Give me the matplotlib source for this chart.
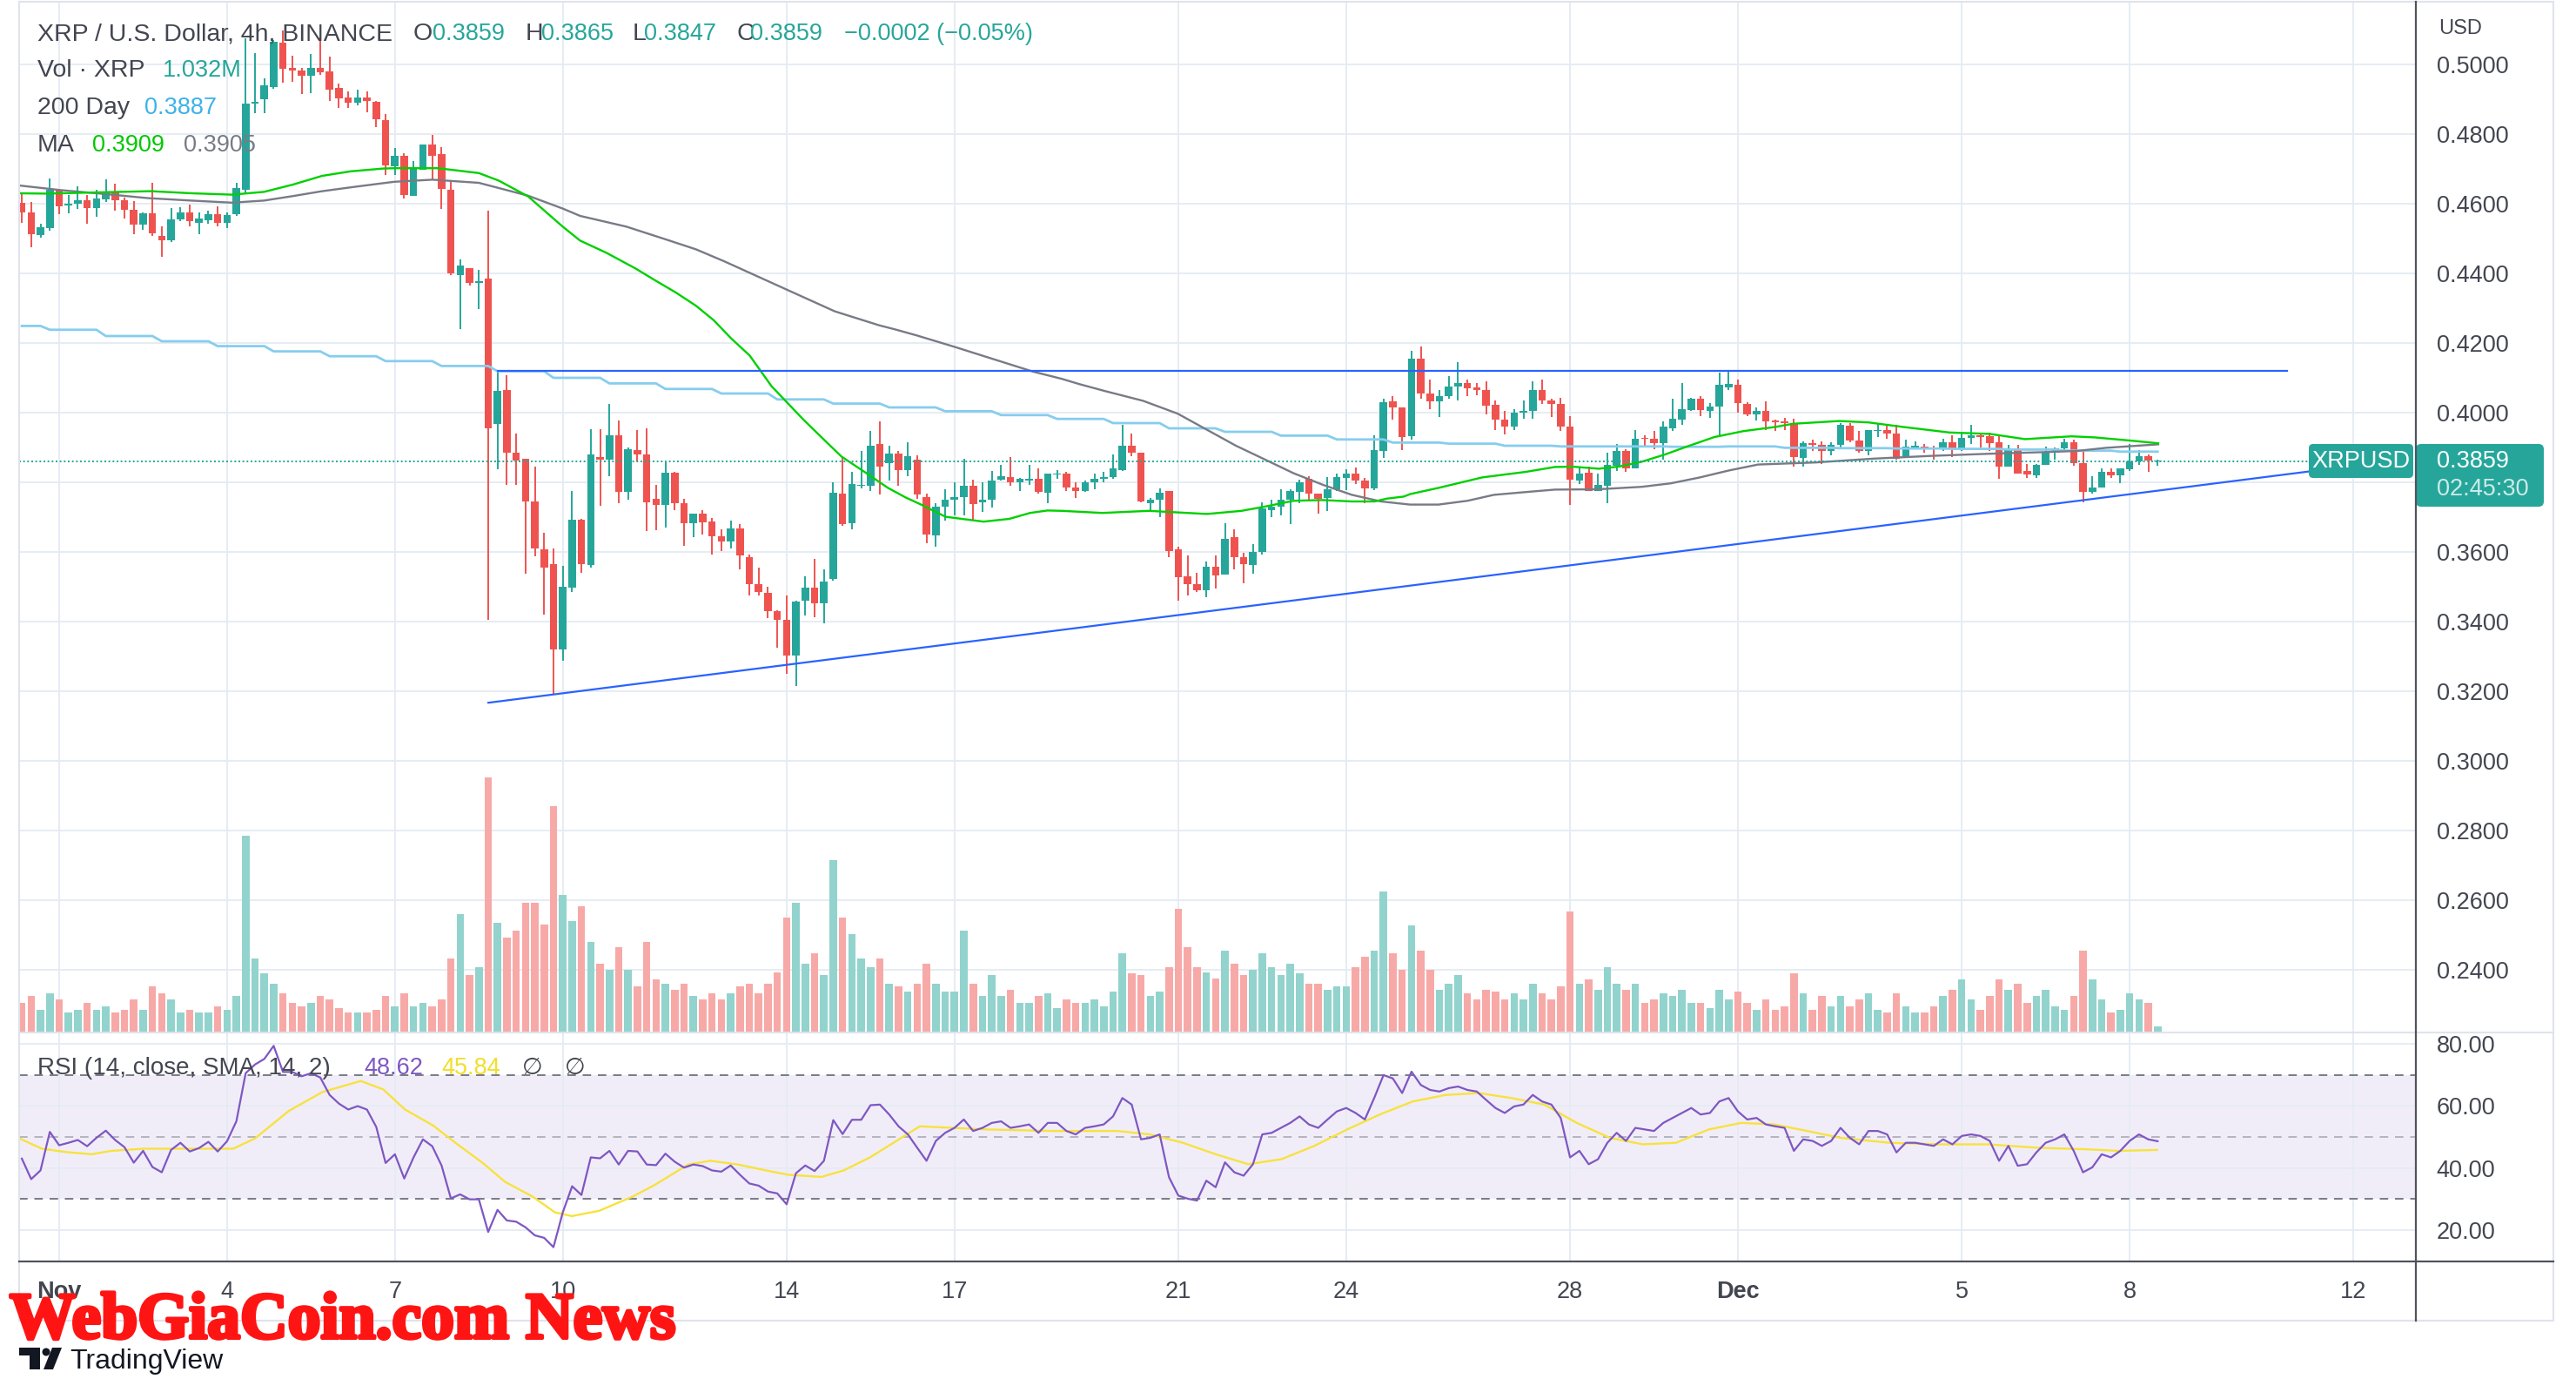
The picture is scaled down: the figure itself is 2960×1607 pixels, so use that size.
import numpy as np
import matplotlib
matplotlib.use("Agg")
import matplotlib.pyplot as plt
from matplotlib.patches import FancyBboxPatch, Polygon, Circle
from matplotlib import patheffects

W, H = 2960, 1607
plt.rcParams['font.family'] = ['Liberation Sans', 'DejaVu Sans']

# ---- XRP/USD 4h candles; bar 0 = Nov 1 00:00 ----
first_bar = -4
opens = [
    0.4602, 0.4575, 0.4510, 0.4529, 0.4637, 0.4593, 0.4600, 0.4610, 0.4586, 0.4611, 0.4632, 0.4610,
    0.4581, 0.4539, 0.4571, 0.4506, 0.4493, 0.4553, 0.4573, 0.4545, 0.4552, 0.4569, 0.4544, 0.4568,
    0.4639, 0.4886, 0.4900, 0.4935, 0.5062, 0.4988, 0.4981, 0.4967, 0.4988, 0.4979, 0.4931, 0.4903,
    0.4888, 0.4905, 0.4891, 0.4840, 0.4707, 0.4737, 0.4622, 0.4697, 0.4768, 0.4742, 0.4640, 0.4393,
    0.4415, 0.4371, 0.4384, 0.3966, 0.4063, 0.3885, 0.3866, 0.3744,
    0.3607, 0.3564, 0.3318, 0.3496, 0.3691, 0.3562, 0.3872, 0.3865, 0.3934, 0.3771, 0.3891, 0.3880,
    0.3751, 0.3734, 0.3826, 0.3739, 0.3681, 0.3710, 0.3687, 0.3645, 0.3628, 0.3667, 0.3585, 0.3506,
    0.3482, 0.3429, 0.3403, 0.3302, 0.3458, 0.3497, 0.3452,
    0.3521, 0.3767, 0.3681, 0.3788, 0.3788, 0.3908, 0.3853, 0.3882, 0.3835, 0.3864, 0.3757, 0.3646,
    0.3729, 0.3750, 0.3757, 0.3789, 0.3741, 0.3748, 0.3806, 0.3814, 0.3800, 0.3804, 0.3808, 0.3768,
    0.3821, 0.3825, 0.3785,
    0.3773, 0.3798, 0.3810, 0.3813, 0.3833, 0.3904, 0.3883, 0.3739, 0.3748, 0.3773, 0.3607, 0.3529,
    0.3507, 0.3490, 0.3557, 0.3533, 0.3642, 0.3583, 0.3561, 0.3598, 0.3719, 0.3729, 0.3750, 0.3771,
    0.3808, 0.3767, 0.3754, 0.3779, 0.3811, 0.3823, 0.3804, 0.3781, 0.3889, 0.4031, 0.4014, 0.3931,
    0.4154,
    0.4054, 0.4031, 0.4046, 0.4073, 0.4085, 0.4071, 0.4065, 0.4022, 0.3978, 0.3958, 0.3998, 0.4003,
    0.4065, 0.4035, 0.4023, 0.3960, 0.3804, 0.3827, 0.3773, 0.3790, 0.3846, 0.3888, 0.3838, 0.3927,
    0.3925, 0.3912, 0.3954, 0.3979, 0.4006, 0.4038, 0.4004, 0.4017, 0.4071, 0.4079, 0.4025, 0.3993,
    0.4005, 0.3977, 0.3975, 0.3969, 0.3869, 0.3911, 0.3907, 0.3888, 0.3907, 0.3961, 0.3919, 0.3890,
    0.3946, 0.3949, 0.3938, 0.3875, 0.3900, 0.3902, 0.3896, 0.3894, 0.3914, 0.3894, 0.3927, 0.3933,
    0.3931, 0.3913, 0.3843, 0.3896, 0.3831, 0.3818, 0.3848, 0.3883, 0.3896, 0.3914, 0.3854, 0.3771,
    0.3783, 0.3829, 0.3818, 0.3836, 0.3860, 0.3875, 0.3859,
]
highs = [
    0.4627, 0.4604, 0.4542, 0.4671, 0.4639, 0.4623, 0.4648, 0.4623, 0.4638, 0.4668, 0.4656, 0.4617,
    0.4606, 0.4575, 0.4658, 0.4533, 0.4586, 0.4590, 0.4596, 0.4575, 0.4579, 0.4592, 0.4575, 0.4660,
    0.5073, 0.5031, 0.4958, 0.5068, 0.5097, 0.5025, 0.4988, 0.5028, 0.5075, 0.5021, 0.4944, 0.4922,
    0.4926, 0.4922, 0.4893, 0.4856, 0.4760, 0.4743, 0.4722, 0.4770, 0.4797, 0.4762, 0.4665, 0.4438,
    0.4415, 0.4410, 0.4579, 0.4118, 0.4107, 0.3940, 0.3866, 0.3843,
    0.3654, 0.3610, 0.3559, 0.3773, 0.3693, 0.3952, 0.3952, 0.4023, 0.3977, 0.3899, 0.3948, 0.3954,
    0.3791, 0.3857, 0.3830, 0.3751, 0.3710, 0.3719, 0.3696, 0.3664, 0.3688, 0.3678, 0.3592, 0.3554,
    0.3500, 0.3431, 0.3475, 0.3458, 0.3528, 0.3578, 0.3548,
    0.3798, 0.3871, 0.3829, 0.3888, 0.3946, 0.3975, 0.3904, 0.3889, 0.3915, 0.3877, 0.3767, 0.3738,
    0.3779, 0.3798, 0.3867, 0.3807, 0.3798, 0.3832, 0.3850, 0.3871, 0.3812, 0.3848, 0.3838, 0.3825,
    0.3833, 0.3829, 0.3798,
    0.3804, 0.3823, 0.3829, 0.3879, 0.3963, 0.3940, 0.3883, 0.3754, 0.3782, 0.3773, 0.3613, 0.3588,
    0.3538, 0.3571, 0.3588, 0.3682, 0.3664, 0.3597, 0.3622, 0.3742, 0.3750, 0.3778, 0.3778, 0.3806,
    0.3817, 0.3767, 0.3813, 0.3825, 0.3836, 0.3842, 0.3811, 0.3933, 0.4039, 0.4046, 0.4014, 0.4177,
    0.4188,
    0.4094, 0.4064, 0.4104, 0.4144, 0.4094, 0.4085, 0.4090, 0.4035, 0.4004, 0.4008, 0.4033, 0.4090,
    0.4094, 0.4040, 0.4042, 0.3989, 0.3842, 0.3844, 0.3825, 0.3885, 0.3910, 0.3894, 0.3948, 0.3933,
    0.3946, 0.3975, 0.4040, 0.4085, 0.4042, 0.4046, 0.4027, 0.4114, 0.4117, 0.4094, 0.4029, 0.4014,
    0.4031, 0.3978, 0.3983, 0.3981, 0.3917, 0.3921, 0.3916, 0.3914, 0.3969, 0.3969, 0.3946, 0.3950,
    0.3969, 0.3964, 0.3964, 0.3922, 0.3917, 0.3908, 0.3904, 0.3925, 0.3933, 0.3942, 0.3963, 0.3942,
    0.3942, 0.3935, 0.3906, 0.3906, 0.3852, 0.3852, 0.3902, 0.3900, 0.3925, 0.3922, 0.3886, 0.3817,
    0.3839, 0.3839, 0.3839, 0.3910, 0.3892, 0.3878, 0.3865,
]
lows = [
    0.4543, 0.4475, 0.4502, 0.4522, 0.4568, 0.4571, 0.4583, 0.4542, 0.4561, 0.4604, 0.4579, 0.4556,
    0.4511, 0.4525, 0.4507, 0.4446, 0.4488, 0.4550, 0.4533, 0.4512, 0.4542, 0.4533, 0.4529, 0.4563,
    0.4627, 0.4860, 0.4860, 0.4930, 0.4947, 0.4948, 0.4915, 0.4917, 0.4970, 0.4893, 0.4874, 0.4874,
    0.4881, 0.4862, 0.4820, 0.4682, 0.4682, 0.4613, 0.4622, 0.4697, 0.4668, 0.4585, 0.4393, 0.4238,
    0.4363, 0.4296, 0.3404, 0.3837, 0.3791, 0.3791, 0.3536, 0.3587,
    0.3418, 0.3192, 0.3287, 0.3484, 0.3538, 0.3553, 0.3731, 0.3817, 0.3740, 0.3748, 0.3859, 0.3658,
    0.3662, 0.3670, 0.3719, 0.3616, 0.3642, 0.3648, 0.3591, 0.3602, 0.3610, 0.3550, 0.3475, 0.3473,
    0.3408, 0.3325, 0.3248, 0.3214, 0.3417, 0.3411, 0.3394,
    0.3517, 0.3675, 0.3664, 0.3781, 0.3775, 0.3763, 0.3804, 0.3789, 0.3817, 0.3752, 0.3625, 0.3614,
    0.3689, 0.3704, 0.3704, 0.3692, 0.3714, 0.3727, 0.3803, 0.3788, 0.3773, 0.3792, 0.3767, 0.3738,
    0.3808, 0.3775, 0.3754,
    0.3771, 0.3778, 0.3800, 0.3810, 0.3832, 0.3875, 0.3742, 0.3714, 0.3698, 0.3583, 0.3458, 0.3475,
    0.3483, 0.3468, 0.3493, 0.3533, 0.3548, 0.3508, 0.3536, 0.3592, 0.3700, 0.3704, 0.3679, 0.3739,
    0.3743, 0.3708, 0.3717, 0.3775, 0.3777, 0.3793, 0.3739, 0.3777, 0.3869, 0.3979, 0.3892, 0.3922,
    0.4040,
    0.4008, 0.3986, 0.4040, 0.4033, 0.4046, 0.4050, 0.3993, 0.3950, 0.3936, 0.3950, 0.3981, 0.3981,
    0.4025, 0.3986, 0.3946, 0.3733, 0.3793, 0.3773, 0.3773, 0.3738, 0.3832, 0.3829, 0.3838, 0.3900,
    0.3893, 0.3863, 0.3946, 0.3963, 0.4004, 0.3990, 0.3983, 0.3931, 0.4063, 0.3998, 0.3988, 0.3977,
    0.3950, 0.3946, 0.3950, 0.3843, 0.3843, 0.3889, 0.3852, 0.3877, 0.3900, 0.3914, 0.3883, 0.3877,
    0.3929, 0.3925, 0.3863, 0.3873, 0.3896, 0.3883, 0.3865, 0.3888, 0.3871, 0.3888, 0.3908, 0.3900,
    0.3890, 0.3808, 0.3843, 0.3825, 0.3811, 0.3811, 0.3848, 0.3863, 0.3886, 0.3846, 0.3742, 0.3767,
    0.3783, 0.3811, 0.3796, 0.3831, 0.3848, 0.3829, 0.3847,
]
closes = [
    0.4575, 0.4512, 0.4531, 0.4639, 0.4592, 0.4600, 0.4610, 0.4586, 0.4613, 0.4632, 0.4608, 0.4582,
    0.4539, 0.4571, 0.4514, 0.4494, 0.4553, 0.4573, 0.4548, 0.4556, 0.4569, 0.4544, 0.4567, 0.4643,
    0.4886, 0.4892, 0.4938, 0.5063, 0.4986, 0.4982, 0.4967, 0.4988, 0.4977, 0.4927, 0.4901, 0.4888,
    0.4905, 0.4894, 0.4842, 0.4708, 0.4736, 0.4625, 0.4699, 0.4770, 0.4736, 0.4642, 0.4399, 0.4421,
    0.4372, 0.4376, 0.3954, 0.4061, 0.3885, 0.3862, 0.3744, 0.3610,
    0.3555, 0.3320, 0.3498, 0.3691, 0.3564, 0.3880, 0.3865, 0.3934, 0.3771, 0.3895, 0.3880, 0.3742,
    0.3734, 0.3826, 0.3739, 0.3681, 0.3708, 0.3685, 0.3645, 0.3628, 0.3666, 0.3589, 0.3506, 0.3483,
    0.3429, 0.3404, 0.3302, 0.3456, 0.3497, 0.3452, 0.3514,
    0.3769, 0.3679, 0.3794, 0.3792, 0.3904, 0.3843, 0.3882, 0.3833, 0.3873, 0.3763, 0.3648, 0.3728,
    0.3750, 0.3757, 0.3788, 0.3736, 0.3748, 0.3804, 0.3817, 0.3798, 0.3808, 0.3808, 0.3771, 0.3825,
    0.3825, 0.3783, 0.3773,
    0.3800, 0.3810, 0.3814, 0.3838, 0.3904, 0.3883, 0.3743, 0.3748, 0.3769, 0.3602, 0.3527, 0.3506,
    0.3490, 0.3557, 0.3531, 0.3637, 0.3583, 0.3564, 0.3600, 0.3723, 0.3729, 0.3750, 0.3773, 0.3800,
    0.3767, 0.3752, 0.3779, 0.3813, 0.3825, 0.3803, 0.3781, 0.3892, 0.4029, 0.4014, 0.3929, 0.4154,
    0.4054,
    0.4031, 0.4046, 0.4075, 0.4085, 0.4068, 0.4064, 0.4018, 0.3978, 0.3958, 0.3998, 0.4004, 0.4065,
    0.4033, 0.4023, 0.3958, 0.3806, 0.3825, 0.3773, 0.3792, 0.3848, 0.3890, 0.3838, 0.3925, 0.3923,
    0.3911, 0.3958, 0.3981, 0.4008, 0.4038, 0.4006, 0.4017, 0.4078, 0.4082, 0.4027, 0.3993, 0.4004,
    0.3975, 0.3971, 0.3969, 0.3871, 0.3911, 0.3906, 0.3888, 0.3907, 0.3963, 0.3918, 0.3890, 0.3948,
    0.3950, 0.3939, 0.3867, 0.3902, 0.3902, 0.3896, 0.3893, 0.3914, 0.3894, 0.3927, 0.3933, 0.3928,
    0.3911, 0.3843, 0.3896, 0.3825, 0.3821, 0.3848, 0.3883, 0.3896, 0.3914, 0.3854, 0.3771, 0.3783,
    0.3829, 0.3818, 0.3838, 0.3860, 0.3875, 0.3861, 0.3859,
]
# volume per bar, millions of XRP
volumes = [
    4.6, 5.7, 3.6, 6.2, 5.2, 3.1, 3.6, 4.6, 3.6, 4.1, 3.1, 3.6, 5.2, 3.6, 7.2, 6.2, 5.2, 3.1, 3.6, 3.1,
    3.1, 4.1, 3.6, 5.7,
    31.0, 11.6, 9.3, 7.7, 6.2, 4.6, 4.1, 4.6, 5.7, 5.2, 3.9, 3.1, 3.1, 3.1, 3.6, 5.7, 4.1, 6.2, 4.1,
    4.6, 4.1, 5.2, 11.6, 18.6, 9.0, 10.3, 40.2, 17.3, 15.0, 16.0, 20.4, 20.4,
    17.0, 35.6, 21.7, 17.5, 19.9, 14.2, 10.8, 9.8, 13.4, 9.8, 7.2, 14.2, 8.3, 7.7, 6.7, 7.7, 5.7, 5.2,
    6.2, 5.2, 6.2, 7.2, 7.7, 6.2, 7.7, 9.5, 18.1, 20.4, 10.8, 12.4, 9.0,
    27.1, 18.1, 15.5, 11.6, 10.3, 11.6, 7.7, 7.2, 6.5, 7.7, 10.8, 7.7, 6.5, 6.5, 16.0, 7.7, 5.7, 9.0,
    5.7, 6.7, 4.6, 4.6, 5.7, 6.2, 3.9, 5.2, 4.6,
    4.6, 5.2, 4.1, 6.5, 12.4, 9.3, 9.0, 5.7, 6.5, 10.3, 19.4, 13.4, 10.3, 9.5, 8.5, 12.9, 10.8, 9.0,
    9.8, 12.4, 10.3, 9.0, 10.8, 9.3, 7.7, 7.7, 6.7, 7.2, 7.2, 10.3, 11.9, 12.9, 22.2, 12.4, 9.8, 16.8,
    12.9,
    9.8, 6.7, 7.7, 9.0, 6.2, 5.2, 6.7, 6.5, 5.2, 6.2, 5.2, 7.7, 6.2, 5.2, 7.2, 19.1, 7.7, 8.3, 6.7,
    10.3, 7.7, 6.7, 7.7, 4.6, 5.2, 6.2, 5.7, 6.7, 4.6, 4.6, 3.9, 6.7, 5.2, 6.5, 4.6, 3.6,
    5.2, 3.6, 4.1, 9.3, 6.2, 3.6, 5.7, 4.1, 5.7, 4.1, 5.2, 6.2, 3.6, 3.1, 6.2, 4.1, 3.1, 3.1, 4.1, 5.7,
    6.7, 8.3, 5.2, 3.6, 5.7, 8.3, 6.7, 7.7, 4.6, 5.7, 6.7, 4.1, 3.6, 5.7, 12.9, 8.3, 5.2, 3.1, 3.6,
    6.2, 5.2, 4.6, 1.0,
]
# RSI(14) per bar
rsi_vals = [
    43.0, 36.4, 39.2, 51.6, 47.3, 48.1, 49.0, 47.0, 49.7, 52.0, 49.0, 46.7, 41.7, 45.5, 40.3, 38.6,
    45.8, 48.1, 45.3, 46.4, 48.4, 45.3, 48.6, 55.0, 70.5, 73.3, 75.1, 79.3,
    70.9, 70.9, 69.5, 70.5, 69.1, 63.5, 60.7, 58.8, 59.9, 58.8, 53.2, 41.6, 44.4, 36.6, 43.4, 49.2,
    47.0, 40.8, 30.2, 31.5, 29.9, 29.9, 19.4, 26.5, 23.1, 22.7, 20.9, 18.3, 17.5, 14.5, 25.7, 34.1,
    31.3, 43.4, 43.1, 45.5, 41.1, 45.5, 45.3, 41.1, 40.9, 44.6, 42.0, 40.1, 41.1, 40.6, 39.2, 38.8,
    40.8, 37.8, 35.0, 34.3, 32.4, 31.8, 28.3, 38.3, 40.8, 39.0, 42.3, 55.4, 50.9, 55.5, 55.5, 60.2,
    60.4, 57.2, 53.4, 50.8, 46.5, 42.3, 48.7, 51.3, 52.9, 55.6, 51.9, 52.9, 54.5, 55.0, 52.9, 53.4,
    54.0, 51.3, 54.5, 54.5, 51.9, 50.8, 52.9, 53.4, 54.0, 56.6, 62.5, 60.4, 49.2, 49.7, 50.8, 37.0,
    31.1, 30.1, 29.5, 35.9, 33.8, 41.8, 38.6, 37.5, 41.2, 50.8, 51.3, 52.9, 54.5, 56.6, 54.0, 52.9,
    55.6, 58.2, 59.3, 57.7, 55.6, 62.5, 69.9, 68.8, 64.1, 71.0, 66.7, 65.1, 64.6, 65.7, 66.2, 65.1,
    64.6, 61.9, 59.3, 57.7, 59.8, 60.4, 63.5, 61.4, 60.4, 56.1, 43.4, 45.5, 41.2, 42.8, 48.1, 51.3,
    48.7, 52.9, 52.4, 51.9, 54.5, 56.1, 57.7, 59.3, 57.2, 57.7, 61.4, 62.5, 58.2, 55.6, 56.1, 54.0,
    53.4, 52.9, 45.5, 49.2, 48.7, 47.1, 48.7, 52.9, 49.7, 47.6, 51.9, 51.9, 50.8, 45.0, 48.1, 48.1,
    47.6, 47.1, 49.2, 47.6, 50.3, 50.8, 50.3, 48.7, 42.3, 47.1, 40.7, 41.2, 45.0, 48.1, 49.2, 50.8,
    45.5, 38.6, 40.2, 44.4, 43.4, 45.5, 48.7, 50.8, 49.2, 48.6,
]
# RSI smoothing (SMA 14) vertices: day, value
rsi_sma_day = [-0.71, -0.31, 0.13, 0.58, 0.93, 1.52, 2.22, 3.11, 3.50, 4.10, 4.70, 5.39, 5.79, 6.18,
               6.68, 7.08, 7.57, 7.97, 8.46, 8.86, 9.16, 9.65, 10.25, 10.65, 11.24, 11.64, 12.13,
               12.63, 13.03, 13.62, 14.02, 14.49, 15.38, 16.56, 17.73, 18.91, 19.49, 20.08, 20.67,
               21.25, 21.84, 22.43, 23.02, 23.60, 24.19, 24.78, 25.37, 25.95, 26.54, 27.12, 27.71,
               28.30, 28.89, 29.48, 30.06, 30.65, 31.24, 31.83, 32.70, 33.59, 34.47, 35.35, 36.23,
               36.82, 37.49]
rsi_sma_val = [49.5, 46.2, 45.1, 44.4, 45.5, 46.2, 46.2, 46.2, 49.5, 58.3, 64.4, 68.0, 65.3, 58.8,
               53.7, 48.1, 41.6, 35.5, 30.8, 25.7, 24.5, 26.2, 30.8, 34.6, 41.1, 42.3, 41.1, 39.2,
               37.8, 37.1, 39.2, 43.4, 53.4, 52.4, 51.9, 51.9, 50.8, 48.1, 44.4, 41.2, 42.8, 47.1,
               52.4, 57.2, 61.4, 63.5, 64.1, 62.5, 60.4, 54.5, 49.7, 47.6, 48.1, 52.4, 54.5, 54.0,
               51.9, 49.7, 48.1, 47.6, 47.6, 46.5, 46.0, 45.5, 45.8]

# moving averages (day from Nov 1 00:00, value)
ma_fast_day = [-0.75, -0.23, 0.81, 1.64, 2.36, 3.09, 3.66, 4.18, 4.70, 5.21, 5.79, 5.99, 6.77, 7.50,
               7.86, 8.38, 9.00, 9.31, 9.78, 10.30, 10.66, 11.02, 11.38, 11.70, 12.01, 12.34, 12.73,
               13.30, 13.67, 13.98, 14.39, 14.81, 15.12, 15.43, 15.84, 16.52, 16.98, 17.35, 17.66,
               17.92, 18.64, 19.47, 20.51, 21.13, 21.54, 22.06, 22.58, 23.10, 23.51, 23.72, 24.03,
               24.14, 24.65, 25.43, 26.21, 26.73, 27.04, 27.51, 27.87, 28.28, 28.70, 29.06, 29.58,
               30.10, 30.67, 30.98, 31.81, 32.33, 32.95, 33.78, 34.50, 35.13, 35.96, 36.37, 37.00, 37.51]
ma_fast_val = [0.4629, 0.4628, 0.4632, 0.4635, 0.4629, 0.4625, 0.4633, 0.4654, 0.4679, 0.4692, 0.4700,
               0.4701, 0.4701, 0.4687, 0.4665, 0.4620, 0.4533, 0.4493, 0.4458, 0.4413, 0.4378, 0.4344,
               0.4306, 0.4264, 0.4212, 0.4163, 0.4075, 0.3979, 0.3921, 0.3873, 0.3829, 0.3783, 0.3756,
               0.3733, 0.3700, 0.3686, 0.3694, 0.3711, 0.3718, 0.3717, 0.3711, 0.3717, 0.3708, 0.3717,
               0.3729, 0.3746, 0.3748, 0.3744, 0.3744, 0.3752, 0.3758, 0.3765, 0.3783, 0.3813, 0.3829,
               0.3843, 0.3844, 0.3838, 0.3844, 0.3858, 0.3879, 0.3900, 0.3929, 0.3946, 0.3958, 0.3967,
               0.3975, 0.3971, 0.3958, 0.3942, 0.3938, 0.3923, 0.3931, 0.3928, 0.3919, 0.3911]
ma_slow_day = [-0.75, 0.03, 0.81, 1.59, 2.36, 3.09, 3.66, 4.18, 4.70, 5.21, 5.79, 5.99, 6.67, 7.50,
               8.38, 9.00, 9.31, 10.14, 10.87, 11.38, 11.88, 12.91, 13.86, 14.65, 14.94, 15.32, 16.00,
               16.67, 17.40, 17.92, 18.23, 18.69, 19.37, 19.99, 20.51, 21.03, 21.54, 22.06, 22.58,
               23.10, 23.62, 24.14, 24.65, 25.17, 25.64, 26.21, 26.73, 27.51, 28.28, 28.80, 29.32,
               29.84, 30.36, 31.39, 32.43, 33.47, 34.50, 35.54, 36.06, 36.58, 37.51]
ma_slow_val = [0.4652, 0.4638, 0.4627, 0.4615, 0.4608, 0.4602, 0.4608, 0.4621, 0.4635, 0.4646, 0.4658,
               0.4662, 0.4668, 0.4659, 0.4622, 0.4585, 0.4564, 0.4533, 0.4495, 0.4468, 0.4434, 0.4359,
               0.4290, 0.4250, 0.4238, 0.4221, 0.4188, 0.4154, 0.4117, 0.4096, 0.4081, 0.4061, 0.4033,
               0.3996, 0.3950, 0.3904, 0.3865, 0.3825, 0.3792, 0.3763, 0.3744, 0.3735, 0.3735, 0.3746,
               0.3763, 0.3771, 0.3778, 0.3779, 0.3786, 0.3796, 0.3813, 0.3833, 0.3850, 0.3856, 0.3867,
               0.3875, 0.3881, 0.3886, 0.3889, 0.3898, 0.3908]
# 200 day average, one value per day (first entry = Oct 31)
day200_vals = [0.4248, 0.4237, 0.4219, 0.4204, 0.4190, 0.4175, 0.4161, 0.4147, 0.4133, 0.4118, 0.4099,
               0.4083, 0.4067, 0.4054, 0.4037, 0.4025, 0.4014, 0.4003, 0.3992, 0.3981, 0.3969, 0.3954,
               0.3944, 0.3933, 0.3922, 0.3913, 0.3910, 0.3904, 0.3902, 0.3902, 0.3901, 0.3902, 0.3898,
               0.3897, 0.3896, 0.3895, 0.3893, 0.3890, 0.3887]

# drawn trend lines (day, price)
resist_line = ([7.84, 39.81], [0.4118, 0.4118])
support_line = ([7.67, 40.20], [0.3166, 0.3830])
last_price = 0.3859

tick_days = [0, 3, 6, 9, 13, 16, 20, 23, 27, 30, 34, 37, 41]
tick_labels = ['Nov', '4', '7', '10', '14', '17', '21', '24', '28', 'Dec', '5', '8', '12']
price_ticks = np.round(np.arange(0.24, 0.5001, 0.02), 2)
rsi_ticks = [20, 40, 60, 80]

UP, DOWN = '#26A69A', '#EF5350'
TXT = '#434651'
GRID = '#E4EBF2'

fig = plt.figure(figsize=(W / 100, H / 100), dpi=100)
fig.patch.set_facecolor('white')


def rect(x0, y0, x1, y1):
    return [x0 / W, 1 - y1 / H, (x1 - x0) / W, (y1 - y0) / H]


L, R, T, PB, RB = 22, 2776, 2, 1186, 1449
XLIM = (-0.715, 42.115)
PLIM = (0.2219, 0.5179)

ax_g = fig.add_axes(rect(L, T, R, PB), zorder=0)
ax_v = fig.add_axes(rect(L, T, R, PB), zorder=1)
ax_p = fig.add_axes(rect(L, T, R, PB), zorder=2)
ax_r = fig.add_axes(rect(L, PB, R, RB), zorder=2)

for ax in (ax_g, ax_v, ax_p, ax_r):
    ax.set_xlim(*XLIM)
    for s in ax.spines.values():
        s.set_visible(False)
for ax in (ax_v, ax_p):
    ax.patch.set_alpha(0)
    ax.set_xticks([])
    ax.set_yticks([])
ax_g.set_ylim(*PLIM)
ax_p.set_ylim(*PLIM)

# grid + price scale (0.3800 sits under the last-price box)
ax_g.set_xticks(tick_days)
ax_g.set_yticks(price_ticks)
ax_g.grid(True, color=GRID, lw=1.3)
ax_g.yaxis.tick_right()
ax_g.set_yticklabels(['' if abs(p - 0.38) < 1e-9 else '%.4f' % p for p in price_ticks])
ax_g.tick_params(axis='y', length=0, pad=17, labelsize=19.5, labelcolor=TXT)
ax_g.tick_params(axis='x', length=0, labelbottom=False)

# candles + volume
n = len(closes)
o, h, l, c = map(np.array, (opens, highs, lows, closes))
bars = first_bar + np.arange(n)
days = bars / 6.0
rising = c >= o
col = np.where(rising, UP, DOWN)
ax_v.set_ylim(0, 162.2)
ax_v.bar(days, volumes, width=0.8 / 6, color=np.where(rising, '#92D3CD', '#F7A9A7'), lw=0)
ax_p.vlines(days, l, h, colors=col, lw=1.4, zorder=3)
ax_p.bar(days, np.maximum(np.abs(c - o), 0.0003), bottom=np.minimum(o, c),
         width=0.8 / 6, color=col, lw=0, zorder=4)

# indicators
ma200 = np.array(day200_vals)[(bars + 1) // 6 + 1]
ax_p.plot(days, ma200, color='#86CDEE', lw=2.0, zorder=5)
ax_p.plot(ma_slow_day, ma_slow_val, color='#787B86', lw=1.7, zorder=5)
ax_p.plot(ma_fast_day, ma_fast_val, color='#00D000', lw=1.7, zorder=5)
ax_p.plot(*resist_line, color='#2962FF', lw=1.6, zorder=6)
ax_p.plot(*support_line, color='#2962FF', lw=1.6, zorder=6)
ax_p.plot([XLIM[0], 40.2], [last_price, last_price], color=UP, lw=1.4,
          linestyle=(0, (1, 1.4)), zorder=6)

# RSI pane
ax_r.set_ylim(9.9, 83.6)
ax_r.set_xticks(tick_days)
ax_r.set_yticks(rsi_ticks)
ax_r.grid(True, color=GRID, lw=1.3)
ax_r.axhspan(30, 70, color='#7E57C2', alpha=0.1, lw=0)
for lev, a in ((70, 1.0), (50, 0.5), (30, 1.0)):
    ax_r.axhline(lev, color='#787B86', alpha=a, lw=1.4, linestyle=(0, (5, 4)))
ax_r.plot(rsi_sma_day, rsi_sma_val, color='#F7E23E', lw=1.7, zorder=4)
ax_r.plot(days, rsi_vals, color='#7E57C2', lw=1.6, zorder=5)
ax_r.yaxis.tick_right()
ax_r.set_yticklabels(['%.2f' % v for v in rsi_ticks])
ax_r.tick_params(axis='y', length=0, pad=17, labelsize=19.5, labelcolor=TXT)
ax_r.set_xticklabels(tick_labels)
ax_r.tick_params(axis='x', length=0, pad=16, labelsize=19.5, labelcolor=TXT)
for lab in ax_r.get_xticklabels():
    if lab.get_text() in ('Nov', 'Dec'):
        lab.set_fontweight('bold')

# ---- overlay in pixel coordinates: frame, legends, labels ----
ax_o = fig.add_axes([0, 0, 1, 1], zorder=10)
ax_o.set_xlim(0, W)
ax_o.set_ylim(H, 0)
ax_o.axis('off')
ax_o.patch.set_visible(False)

LIGHT, DARK = '#E0E3EB', '#50535E'
ax_o.plot([L, 2934], [T, T], color=LIGHT, lw=1.5)
ax_o.plot([L, 2934], [1517, 1517], color=LIGHT, lw=1.5)
ax_o.plot([L, L], [T, 1517], color=LIGHT, lw=1.5)
ax_o.plot([2934, 2934], [T, 1517], color=LIGHT, lw=1.5)
ax_o.plot([L, 2934], [PB, PB], color=LIGHT, lw=1.5)
ax_o.plot([R, R], [T, 1517], color=DARK, lw=1.6)
ax_o.plot([L, 2934], [RB, RB], color=DARK, lw=1.6)

FS = 19.5
def put(x, y, s, color=TXT, size=FS, **kw):
    ax_o.text(x, y, s, color=color, fontsize=size, va='center', ha='left', **kw)

put(43, 39, 'XRP / U.S. Dollar, 4h, BINANCE', size=20.5)
for x, s in ((475, 'O'), (604, 'H'), (727, 'L'), (847, 'C')):
    put(x, 39, s, size=20.5)
for x, s in ((497, '0.3859'), (622, '0.3865'), (740, '0.3847'), (862, '0.3859'),
             (970, '\u22120.0002 (\u22120.05%)')):
    put(x, 39, s, color=UP)
put(43, 81, 'Vol \u00b7 XRP', size=20.5)
put(187, 81, '1.032M', color=UP)
put(43, 124, '200 Day', size=20.5)
put(166, 124, '0.3887', color='#3DB2E8')
put(43, 167, 'MA', size=20.5)
put(106, 167, '0.3909', color='#00C800')
put(211, 167, '0.3905', color='#787B86')

put(43, 1227, 'RSI (14, close, SMA, 14, 2)', size=20)
put(418, 1227, '48.62', color='#7E57C2')
put(507, 1227, '45.84', color='#F2DE2C')
put(600, 1227, '\u2205', color=TXT)
put(649, 1227, '\u2205', color=TXT)

put(2802, 33, 'USD', size=17)

# last price labels
yl = H - ax_g.transData.transform((0, last_price))[1]
ax_o.add_patch(FancyBboxPatch((2653, yl - 20), 120, 39, boxstyle='round,pad=0,rounding_size=5',
                              fc=UP, ec='none'))
ax_o.text(2713, yl, 'XRPUSD', color='white', fontsize=FS, ha='center', va='center')
ax_o.add_patch(FancyBboxPatch((2776, yl - 20), 147, 72, boxstyle='round,pad=0,rounding_size=6',
                              fc=UP, ec='none'))
ax_o.text(2800, yl, '0.3859', color='white', fontsize=FS, ha='left', va='center')
ax_o.text(2800, yl + 32, '02:45:30', color='#CDEBE8', fontsize=FS, ha='left', va='center')

# watermark and logo
ax_o.text(11, 1537, 'WebGiaCoin.com News', color='#FF1414', fontsize=54.5, fontweight='bold',
          family=['Liberation Serif', 'DejaVu Serif'], ha='left', va='baseline',
          path_effects=[patheffects.withStroke(linewidth=3, foreground='#FF1414')])
ax_o.add_patch(Polygon([(22, 1548), (46, 1548), (46, 1573), (34, 1573), (34, 1557), (22, 1557)],
                       closed=True, fc='#131722', ec='none'))
ax_o.add_patch(Circle((53, 1553), 4.5, fc='#131722', ec='none'))
ax_o.add_patch(Polygon([(60, 1548), (71, 1548), (61, 1573), (50, 1573)], closed=True,
                       fc='#131722', ec='none'))
ax_o.text(80, 1572, 'TradingView', color='#131722', fontsize=23,
          family=['Liberation Sans Narrow', 'Liberation Sans'], ha='left', va='baseline')

fig.savefig('out.png', dpi=100, facecolor='white')
